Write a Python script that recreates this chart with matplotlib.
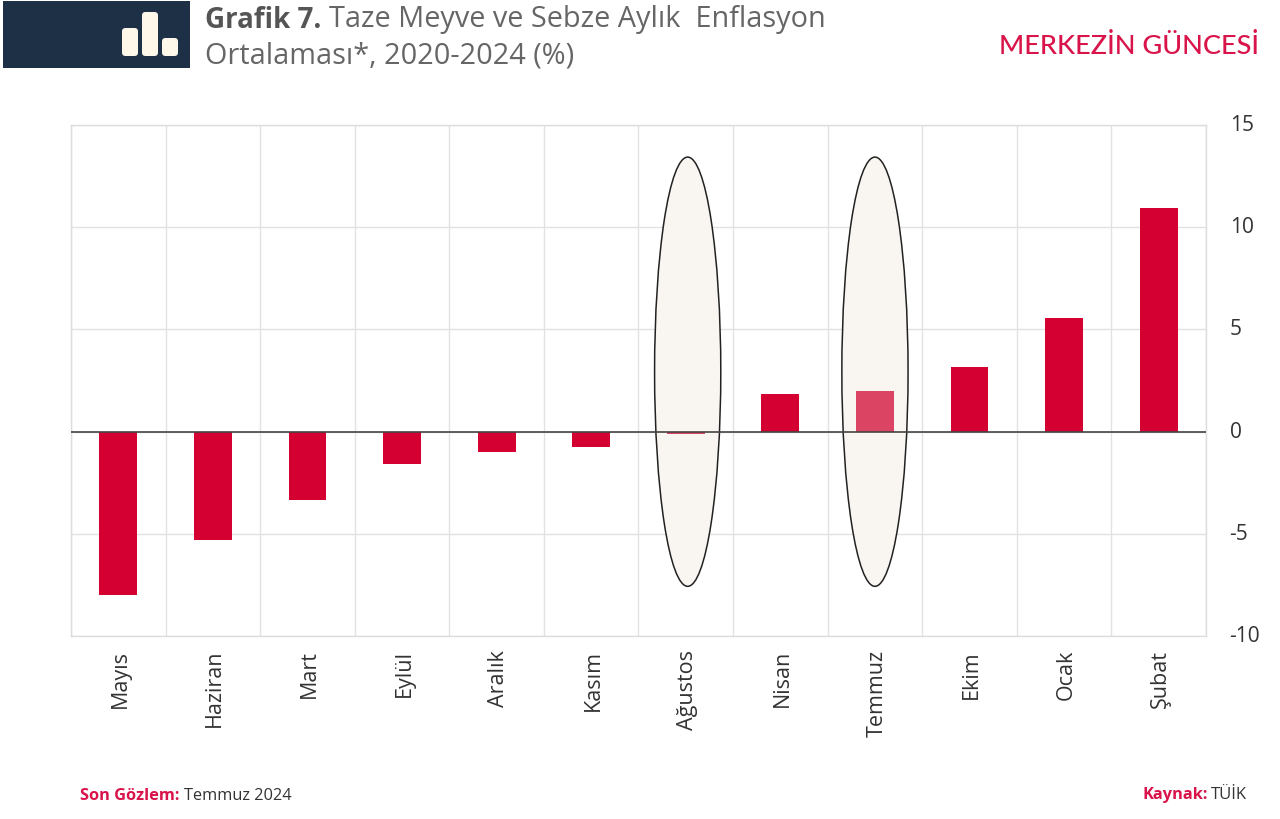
import matplotlib
matplotlib.use('Agg')
import matplotlib.pyplot as plt
from matplotlib.patches import Ellipse, Rectangle, FancyBboxPatch
from matplotlib.transforms import ScaledTranslation

plt.rcParams['font.family'] = ['Open Sans', 'DejaVu Sans']

months = ['Mayıs', 'Haziran', 'Mart', 'Eylül', 'Aralık', 'Kasım',
          'Ağustos', 'Nisan', 'Temmuz', 'Ekim', 'Ocak', 'Şubat']
values = [-8.0, -5.3, -3.35, -1.6, -1.0, -0.75, -0.1, 1.85, 2.0, 3.15, 5.55, 10.95]
highlighted = ['Ağustos', 'Temmuz']
ellipse_shift = [0.02, 0.0]
y_ticks = [-10, -5, 0, 5, 10, 15]

RED = '#d50032'
FADED = '#dc4464'
W, H = 1280, 819

fig = plt.figure(figsize=(W / 100, H / 100), dpi=100, facecolor='white')

# main chart
ax = fig.add_axes([71 / W, 1 - 636 / H, (1206 - 71) / W, (636 - 125) / H])
x = list(range(len(months)))
colors = [FADED if m in highlighted else RED for m in months]
ax.bar(x, values, width=0.4, color=colors, zorder=3)

for m, dx in zip(highlighted, ellipse_shift):
    ax.add_patch(Ellipse((months.index(m) + dx, 2.93), 0.70, 21.0, facecolor='#f9f6f1',
                         edgecolor='#222222', lw=1.1, zorder=2))

ax.axhline(0, color='#444444', lw=1.2, zorder=4)

ax.set_xlim(-0.5, len(months) - 0.5)
ax.set_ylim(-10, 15)
ax.set_yticks(y_ticks)
ax.set_yticklabels([str(t) for t in y_ticks], fontsize=15, color='#333333')
ax.yaxis.tick_right()
ax.tick_params(axis='y', length=0, pad=17)
ax.set_xticks(x)
ax.set_xticklabels(months, rotation=90, fontsize=15.5, color='#333333')
ax.tick_params(axis='x', length=0, pad=10)
ax.set_xticks([i - 0.5 for i in range(len(months) + 1)], minor=True)
ax.tick_params(axis='x', which='minor', length=0)
ax.grid(True, which='minor', axis='x', color='#e2e2e2', lw=1.0, zorder=1)
ax.grid(True, which='major', axis='y', color='#e2e2e2', lw=1.0, zorder=1)
ax.set_axisbelow(True)
for s in ax.spines.values():
    s.set_color('#dddddd')
    s.set_linewidth(1.0)

# nudge tick labels a couple of pixels
for lab in ax.get_yticklabels():
    lab.set_transform(lab.get_transform() + ScaledTranslation(0, 2 / 100, fig.dpi_scale_trans))
for lab in ax.get_xticklabels():
    lab.set_transform(lab.get_transform() + ScaledTranslation(2 / 100, 0, fig.dpi_scale_trans))

# header and footer, in pixel coords
bg = fig.add_axes([0, 0, 1, 1], zorder=-1)
bg.set_xlim(0, W)
bg.set_ylim(H, 0)
bg.axis('off')
bg.add_patch(Rectangle((3, 1), 187, 67, facecolor='#1d3045', edgecolor='none'))
for bx, by, bw, bh in [(122, 28, 16, 28), (142, 12, 16, 44), (162, 38, 16, 18)]:
    bg.add_patch(FancyBboxPatch((bx, by), bw, bh, boxstyle='round,pad=0,rounding_size=3.5',
                                facecolor='#fdf8ea', edgecolor='none'))

bg.text(205, 20, 'Grafik 7.', fontsize=20, fontweight='bold', color='#555555', va='center')
bg.text(329, 20, 'Taze Meyve ve Sebze Aylık  Enflasyon', fontsize=20.8, color='#666666', va='center')
bg.text(205, 56, 'Ortalaması*, 2020-2024 (%)', fontsize=20.8, color='#666666', va='center')
bg.text(1259, 46, 'MERKEZİN GÜNCESİ', fontsize=19.5, fontweight='medium', color='#d9144a',
        va='center', ha='right', family=['Lato', 'DejaVu Sans'])

bg.text(80, 796, 'Son Gözlem:', fontsize=11.8, fontweight='bold', color='#d9144a', va='center')
bg.text(184, 796, 'Temmuz 2024', fontsize=11.8, color='#333333', va='center')
bg.text(1143, 795, 'Kaynak:', fontsize=11.8, fontweight='bold', color='#d9144a', va='center')
bg.text(1247, 795, 'TÜİK', fontsize=12, color='#333333', va='center', ha='right')

fig.savefig('out.png', dpi=100)
